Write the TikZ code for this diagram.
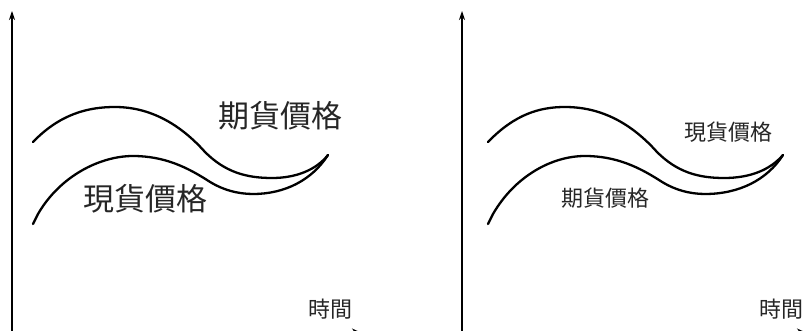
\documentclass[tikz,border=0pt]{standalone}
\usepackage{fontspec}
\newfontfamily\cjk{Noto Sans CJK TC}
\usetikzlibrary{arrows.meta}
\begin{document}
\begin{tikzpicture}[x=1pt,y=-1pt,
  axis/.style={line width=1.1pt,-{Stealth[length=9pt,width=6pt]}},
  xaxis/.style={line width=1.1pt,-{Stealth[length=10pt,width=9pt]}},
  curve/.style={line width=2.3pt,line join=round,line cap=round},
  biglabel/.style={font=\cjk\fontsize{31}{31}\selectfont,color=black!85,inner sep=0pt},
  smalllabel/.style={font=\cjk\fontsize{22}{22}\selectfont,color=black!85,inner sep=0pt}]
\useasboundingbox (0,0) rectangle (809,331);
% left panel
\coordinate (o1) at (12,333);
\coordinate (yt1) at (12,11);
\coordinate (xt1) at (362,333);
\draw[axis] (o1) -- (yt1);
\draw[xaxis] (o1) -- (xt1);
\draw[curve] (33,142) .. controls (60,114) and (88,107) .. (115,107)
  .. controls (150,107) and (180,124) .. (205,152)
  .. controls (225,172) and (246,178) .. (272,178)
  .. controls (296,178) and (316,170) .. (328,155);
\draw[curve] (33,224) -- (38,214) .. controls (60,176) and (100,156) .. (133,156)
  .. controls (165,156) and (188,168) .. (207,180)
  .. controls (222,190) and (238,194) .. (253,194)
  .. controls (285,194) and (312,180) .. (328,155);
\node[biglabel] (f1) at (280,116) {期貨價格};
\node[biglabel] (s1) at (145,199) {現貨價格};
\node[smalllabel] (t1) at (330,309) {時間};
% right panel
\coordinate (o2) at (462,333);
\coordinate (yt2) at (462,11);
\coordinate (xt2) at (807,333);
\draw[axis] (o2) -- (yt2);
\draw[xaxis] (o2) -- (xt2);
\begin{scope}[shift={(452,0)}]
\draw[curve] (36,142) .. controls (63,114) and (88,107) .. (113,107)
  .. controls (150,107) and (180,124) .. (205,152)
  .. controls (225,172) and (246,178) .. (272,178)
  .. controls (298,178) and (318,170) .. (331,155);
\draw[curve] (36,224) -- (41,214) .. controls (63,176) and (100,156) .. (133,156)
  .. controls (165,156) and (188,168) .. (207,180)
  .. controls (222,190) and (238,194) .. (253,194)
  .. controls (287,194) and (315,180) .. (331,155);
\end{scope}
\node[smalllabel] (s2) at (728,132) {現貨價格};
\node[smalllabel] (f2) at (605,198) {期貨價格};
\node[smalllabel] (t2) at (781,309) {時間};
\end{tikzpicture}
\end{document}
